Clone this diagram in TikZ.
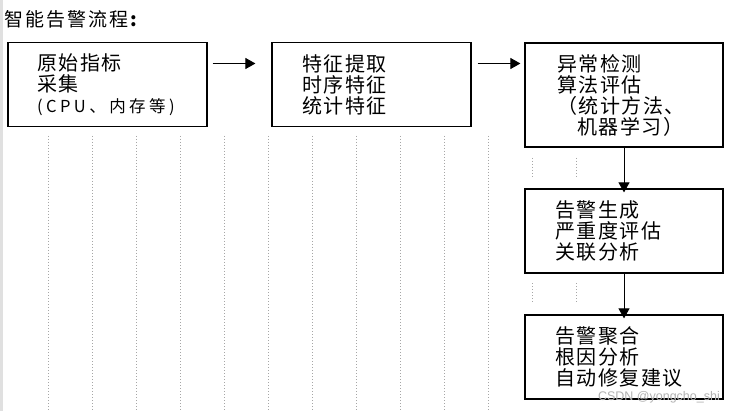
\documentclass[tikz,border=0pt]{standalone}
\usepackage{fontspec}
\usetikzlibrary{arrows.meta}
\newfontfamily\cjk[LetterSpace=7.5]{Noto Sans CJK SC}
\newfontfamily\cjksmall[LetterSpace=21]{Noto Sans CJK SC}
\newfontfamily\cjktitle{Noto Sans CJK SC}
\newfontfamily\wmfont{Liberation Sans}
\newcommand\tk{\kern2pt}
\tikzset{
  flowbox/.style={draw=black, line width=1.2pt, rectangle, inner ysep=0pt, align=left,
    font=\cjk\fontsize{20}{21}\selectfont},
  flowarrow/.style={draw=black, line width=1pt, -{Triangle[length=10pt,width=11pt]}},
  gridline/.style={draw=black!35, line width=0.8pt, dash pattern=on 1pt off 2pt},
}
\begin{document}
\begin{tikzpicture}[x=1pt,y=-1pt]
\useasboundingbox (0,0) rectangle (735,411);
\fill[white] (0,0) rectangle (735,411);
\fill[black!12] (0,0) rectangle (3,411);
% dotted guide lines
\foreach \x in {48,92,...,488} \draw[gridline] (\x,136) -- (\x,411);
\foreach \x in {532,576} {
  \draw[gridline] (\x,158) -- (\x,177);
  \draw[gridline] (\x,283) -- (\x,303);
}
% title
\node[anchor=west, inner sep=0pt, font=\cjktitle\fontsize{19}{20}\selectfont] (title) at (4,19.5) {智\tk 能\tk 告\tk 警\tk 流\tk 程\tk\textbf{:}};
% boxes
\node[flowbox, text width=141pt, inner xsep=29pt, minimum width=199pt, minimum height=84pt] (b1) at (107.5,84.5)
  {原始指标\\采集\\{\cjksmall\fontsize{16.5}{21}\selectfont (CPU、内存等)}};
\node[flowbox, text width=139pt, inner xsep=30pt, minimum width=199pt, minimum height=84pt] (b2) at (371.5,84.5)
  {特征提取\\时序特征\\统计特征};
\node[flowbox, text width=134pt, inner xsep=32pt, minimum width=198pt, minimum height=104pt] (b3) at (624,95)
  {异常检测\\算法评估\\（统计方法、\\\hspace*{20pt}机器学习）};
\node[flowbox, text width=138pt, inner xsep=30pt, minimum width=198pt, minimum height=84pt] (b4) at (624,231)
  {告警生成\\严重度评估\\关联分析};
\node[flowbox, text width=138pt, inner xsep=30pt, minimum width=198pt, minimum height=84pt] (b5) at (624,357)
  {告警聚合\\根因分析\\自动修复建议};
% connectors
\draw[flowarrow, shorten <=5pt, shorten >=16pt] ([yshift=21pt]b1.east) -- ([yshift=21pt]b1.east -| b2.west);
\draw[flowarrow, shorten <=6pt, shorten >=4pt] ([yshift=21pt]b2.east) -- ([yshift=21pt]b2.east -| b3.west);
\draw[flowarrow, shorten >=-4pt] (b3.south) -- (b4.north);
\draw[flowarrow, shorten >=-4pt] (b4.south) -- (b5.north);
% watermark
\node[anchor=east, inner sep=0pt, text=black!30, font=\wmfont\fontsize{12.5}{14}\selectfont] (wm) at (720,397) {CSDN @yongcho\_shi};
\end{tikzpicture}
\end{document}
